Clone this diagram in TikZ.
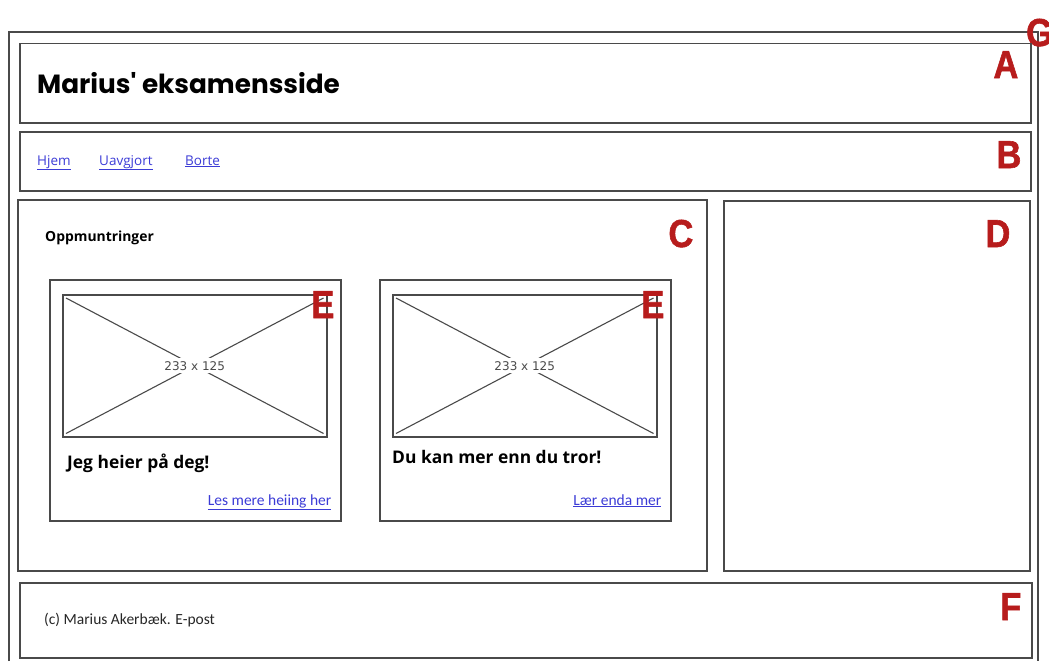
\documentclass[tikz,border=0pt]{standalone}
\usepackage{fontspec}
\setmainfont{Open Sans}
\newfontfamily\titlefont{Poppins}
\newfontfamily\markfont{Liberation Sans}[FakeBold=1.5,FakeStretch=0.88]
\newfontfamily\placefont{DejaVu Sans}
\newfontfamily\handfont{Carlito}
\usepackage{tikz}
\usetikzlibrary{calc,positioning}
\definecolor{markred}{HTML}{B71C1C}
\definecolor{linkblue}{HTML}{3B3BD6}
\definecolor{sketch}{HTML}{4A4A4A}

\begin{document}
\begin{tikzpicture}[
    x=1pt, y=-1pt,
    region/.style={draw=sketch,line width=1.5pt,rectangle,inner sep=0pt,anchor=north west},
    letter/.style={text=markred,font=\markfont\bfseries\fontsize{39}{39}\selectfont,inner sep=0pt,anchor=base east},
    navlink/.style={text=linkblue,font=\fontsize{13.5}{14}\selectfont,inner sep=0pt,anchor=base west},
    morelink/.style={text=linkblue,font=\handfont\fontsize{15.5}{16}\selectfont,inner sep=0pt,anchor=base east},
    cardtitle/.style={font=\bfseries\fontsize{17.4}{18}\selectfont,inner sep=0pt,anchor=base west},
    cross/.style={draw=sketch,line width=1.1pt}
]
    \useasboundingbox (0,0) rectangle (1049,661);

    % outer page frame G
    \draw[draw=sketch,line width=1.5pt] (9,661) -- (9,32) -- (1038,32) -- (1038,661);
    \node[letter,anchor=base west] (markG) at (1026,46) {G};

    % header A
    \node[region,minimum width=1011,minimum height=79] (header) at (19,43) {};
    \node[letter] (markA) at ([shift={(-13,35)}]header.north east) {A};
    \node[font=\titlefont\bfseries\fontsize{26.3}{27}\selectfont,inner sep=0pt,anchor=base west] (title) at (37,93) {Marius' eksamensside};

    % menu B
    \node[region,minimum width=1011,minimum height=59] (menu) at (19,131) {};
    \node[letter] (markB) at ([shift={(-10,37)}]menu.north east) {B};
    \node[navlink] (hjem) at (37,165) {\underline{Hjem}};
    \node[navlink] (uavgjort) at (99,165) {\underline{Uavgjort}};
    \node[navlink] (borte) at (185,165) {\underline{Borte}};

    % main content C
    \node[region,minimum width=689,minimum height=371] (content) at (17,199) {};
    \node[letter] (markC) at ([shift={(-14,48)}]content.north east) {C};
    \node[font=\bfseries\fontsize{13.9}{14}\selectfont,inner sep=0pt,anchor=base west] (heading) at (45,241) {Oppmuntringer};

    % sidebar D
    \node[region,minimum width=306,minimum height=370] (sidebar) at (723,200) {};
    \node[letter] (markD) at ([shift={(-20,47)}]sidebar.north east) {D};

    % cards E
    \foreach \cx/\name/\tx/\ty/\txt/\lnk in {49/one/18/189/{Jeg heier på deg!}/{Les mere heiing her},
                                            379/two/13/184/{Du kan mer enn du tror!}/{Lær enda mer}}{
        \node[region,minimum width=291,minimum height=241] (card\name) at (\cx,279) {};
        \node[region,minimum width=264,minimum height=142] (img\name) at ($(card\name.north west)+(13,15)$) {};
        \draw[cross] ($(img\name.north west)+(4,4)$) -- ($(img\name.south east)+(-4,-4)$);
        \draw[cross] ($(img\name.south west)+(4,-4)$) -- ($(img\name.north east)+(-4,4)$);
        \node[fill=white,inner sep=3pt,text=sketch,font=\placefont\fontsize{12}{13}\selectfont] (size\name) at (img\name.center) {233 x 125};
        \node[letter] (markE\name) at ([shift={(-7,39)}]card\name.north east) {E};
        \node[cardtitle] (title\name) at ($(card\name.north west)+(\tx,\ty)$) {\txt};
        \node[morelink] (more\name) at ($(card\name.north east)+(-10,226)$) {\underline{\lnk}};
    }

    % footer F
    \node[region,minimum width=1012,minimum height=75] (footer) at (19,582) {};
    \node[letter] (markF) at ([shift={(-11,38)}]footer.north east) {F};
    \node[font=\handfont\fontsize{15.5}{16}\selectfont,text=black!85,inner sep=0pt,anchor=base west] (copy) at (44,624) {(c) Marius Akerbæk. E-post};

\end{tikzpicture}
\end{document}
